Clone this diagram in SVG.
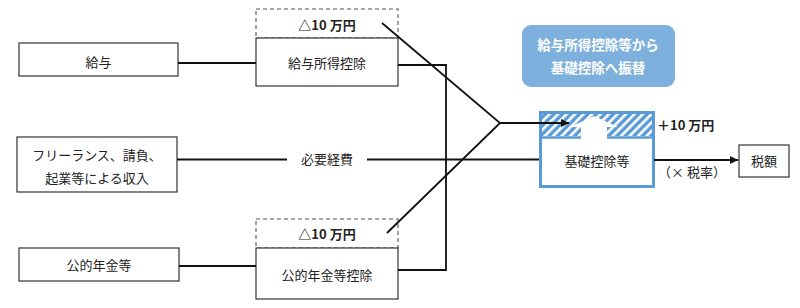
<svg xmlns="http://www.w3.org/2000/svg" width="800" height="308" viewBox="0 0 800 308">
<defs>
<style>
.box{fill:#fff;stroke:#333;stroke-width:1.2}
.dash{fill:#fff;stroke:#555;stroke-width:1.1;stroke-dasharray:4 3}
.t{font-family:"Noto Sans CJK JP","Noto Sans",sans-serif;font-size:13px;fill:#222;text-anchor:middle}
.b{font-weight:bold}
.w{fill:#fff;font-size:13.5px;font-weight:bold}
.ln{fill:none;stroke:#111;stroke-width:1.8}
</style>
<marker id="ah" viewBox="0 0 10 10" refX="10" refY="5" markerWidth="9" markerHeight="8" markerUnits="userSpaceOnUse" orient="auto">
<path d="M0,0 L10,5 L0,10 Z" fill="#111"/>
</marker>
<pattern id="hatch" patternUnits="userSpaceOnUse" width="6" height="6" patternTransform="rotate(45)">
<rect width="6" height="6" fill="#5b9bd5"/>
<rect width="2.6" height="6" fill="#fff"/>
</pattern>
</defs>

<g id="kyuyo">
<rect class="box" x="19" y="43" width="159" height="33"/>
<text class="t" x="98.5" y="67">給与</text>
</g>

<g id="kyuyo-koujo">
<rect class="dash" x="256" y="9" width="142" height="29"/>
<text class="t b" x="327" y="30">△10 万円</text>
<rect class="box" x="256" y="38" width="142" height="48"/>
<text class="t" x="327" y="68">給与所得控除</text>
</g>

<g id="freelance">
<rect class="box" x="17" y="137" width="160" height="55"/>
<text class="t" x="97" y="160">フリーランス、請負、</text>
<text class="t" x="97" y="183">起業等による収入</text>
</g>

<g id="hitsuyo">
<text class="t" x="327" y="164">必要経費</text>
</g>

<g id="nenkin">
<rect class="box" x="19" y="248" width="160" height="33"/>
<text class="t" x="99" y="270">公的年金等</text>
</g>

<g id="nenkin-koujo">
<rect class="dash" x="256" y="219" width="142" height="29"/>
<text class="t b" x="327" y="239">△10 万円</text>
<rect class="box" x="256" y="248" width="142" height="51"/>
<text class="t" x="327" y="280">公的年金等控除</text>
</g>

<g id="label">
<rect x="522" y="25" width="153" height="62" rx="9" fill="#7eb0de"/>
<text class="t w" x="598" y="50">給与所得控除等から</text>
<text class="t w" x="598" y="73">基礎控除へ振替</text>
</g>

<g id="kiso">
<rect x="540.5" y="112.5" width="113" height="74" fill="#fff" stroke="#5b9bd5" stroke-width="3"/>
<rect x="542" y="114" width="110" height="22" fill="url(#hatch)"/>
<path d="M541,137.5 H581 M607,137.5 H653" stroke="#5b9bd5" stroke-width="2.5"/>
<polygon points="581,139 581,127 570,127 594,116 618,127 607,127 607,139" fill="#fff"/>
<text class="t" x="597" y="166">基礎控除等</text>
<text class="t b" x="657" y="130" style="text-anchor:start">＋10 万円</text>
<text class="t" x="692" y="177">（× 税率）</text>
</g>

<g id="zeigaku">
<rect class="box" x="739" y="145" width="50" height="32"/>
<text class="t" x="764" y="166">税額</text>
</g>

<g id="connectors">
<path class="ln" d="M178,63 H256"/>
<path class="ln" d="M398,65 H446 V270 H398"/>
<path class="ln" d="M177,159.5 H287"/>
<path class="ln" d="M367,159.5 H539"/>
<path class="ln" d="M382,23 L500,123 L387,233"/>
<path class="ln" d="M500,123 H569" marker-end="url(#ah)"/>
<path class="ln" d="M179,266 H256"/>
<path class="ln" d="M654,160 H738" marker-end="url(#ah)"/>
</g>
</svg>
